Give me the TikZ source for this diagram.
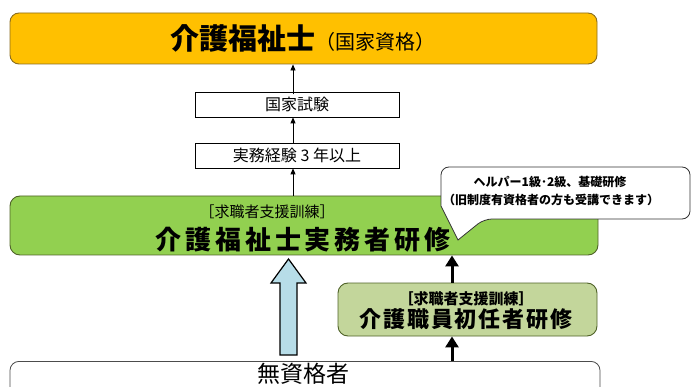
\documentclass[tikz,border=0pt]{standalone}
\usepackage{fontspec}
\setmainfont{Noto Sans CJK JP}
\usetikzlibrary{arrows.meta,calc}
\definecolor{orangefill}{HTML}{FFC000}
\definecolor{orangeline}{HTML}{8A6D1E}
\definecolor{greenfill}{HTML}{92D050}
\definecolor{greenline}{HTML}{4F6228}
\definecolor{palegreen}{HTML}{C3D69B}
\definecolor{lightblue}{HTML}{B7DDE8}
\tikzset{
  qualbox/.style={draw=orangeline, fill=orangefill, line width=0.9pt, rounded corners=9pt, inner sep=0pt},
  plainbox/.style={draw=black, fill=white, line width=0.7pt, inner sep=0pt},
  trainbox/.style={draw=greenline, fill=greenfill, line width=0.9pt, rounded corners=10pt, inner sep=0pt},
  introbox/.style={draw=greenline, fill=palegreen, line width=0.9pt, rounded corners=10pt, inner sep=0pt},
  basebox/.style={draw=black!70, fill=white, line width=0.8pt, rounded corners=9pt, inner sep=0pt},
  txt/.style={inner sep=0pt, text=black},
  thinarrow/.style={draw=black, line width=0.8pt, -{Triangle[width=5pt,length=6pt]}},
  thickarrow/.style={draw=black, line width=3pt, -{Triangle[width=13pt,length=11pt]}},
  bluearrow/.style={draw=black, fill=lightblue, line width=1.2pt, line join=miter},
  callout/.style={draw=black!80, fill=white, line width=0.8pt}
}
\begin{document}
\begin{tikzpicture}[x=1pt,y=-1pt]
\useasboundingbox (0,0) rectangle (693,387);
% boxes
\node[qualbox, minimum width=587pt, minimum height=51pt] (qual) at (303.5,38.5) {};
\node[txt] (qualtxt) at (303,38) {{\fontsize{29}{31}\selectfont\bfseries 介護福祉士}{\fontsize{20}{22}\selectfont （国家資格）}};
\node[plainbox, minimum width=204pt, minimum height=25pt] (exam) at (297,104.5) {};
\node[txt] (examtxt) at (297,104) {\fontsize{16}{18}\selectfont 国家試験};
\node[plainbox, minimum width=204pt, minimum height=25pt] (exp) at (297,155.5) {};
\node[txt] (exptxt) at (297,155) {\fontsize{16}{18}\selectfont 実務経験 3 年以上};
\node[trainbox, minimum width=588pt, minimum height=59pt] (prac) at (304,225.5) {};
\node[txt] (prac1) at (267,212) {\fontsize{15}{17}\selectfont ［求職者支援訓練］};
\node[txt] (prac2) at (303,240) {\fontsize{26}{28}\selectfont\bfseries\addfontfeature{LetterSpace=15}介護福祉士実務者研修};
% callout
\draw[callout, rounded corners=8pt] (441,206) -- (441,167) -- (690,167) -- (690,219) -- (484,219) [sharp corners] -- (458,240) -- cycle;
\node[txt] (call1) at (550,182) {\fontsize{12}{14}\selectfont\bfseries ヘルパー1級･2級、基礎研修};
\node[txt] (call2) at (551,200) {\fontsize{12}{14}\selectfont\bfseries （旧制度有資格者の方も受講できます）};
% intro training
\node[introbox, minimum width=259pt, minimum height=53pt] (intro) at (467.5,309.5) {};
\node[txt] (intro1) at (466,299) {\fontsize{15}{17}\selectfont\bfseries ［求職者支援訓練］};
\node[txt] (intro2) at (466,319) {\fontsize{22}{24}\selectfont\bfseries\addfontfeature{LetterSpace=8}介護職員初任者研修};
% base
\node[basebox, minimum width=590pt, minimum height=60pt, anchor=north] (base) at (305,361) {};
\node[txt] (basetxt) at (303,374) {\fontsize{23}{25}\selectfont 無資格者};
% connectors
\coordinate (ax) at (293,0);
\coordinate (bx) at (452,0);
\draw[thinarrow] (qual.south -| ax) ++(0,30) coordinate (e1) -- (qual.south -| ax);
\draw[thinarrow] (exp.north -| ax) -- (exam.south -| ax);
\draw[thinarrow] (prac.north -| ax) -- (exp.south -| ax);
\draw[thickarrow] (intro.north -| bx) -- (prac.south -| bx);
\draw[thickarrow] (base.north -| bx) -- (intro.south -| bx);
% hollow blue arrow from base to prac
\draw[bluearrow] (280,355) -- (280,283) -- (271,283) -- (288.5,259) -- (306,283) -- (297,283) -- (297,355) -- cycle;
\end{tikzpicture}
\end{document}
